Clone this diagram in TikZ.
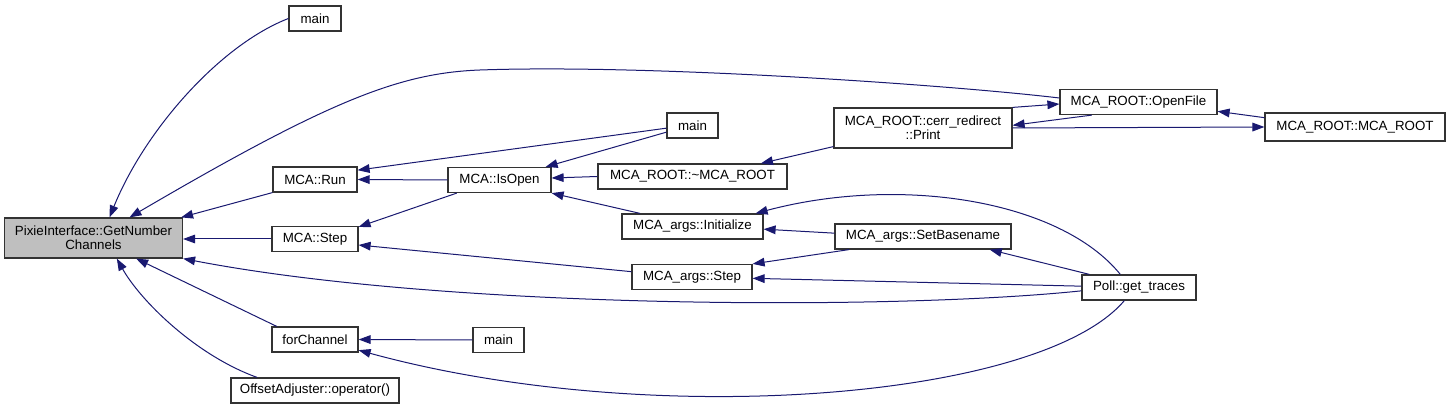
\documentclass[tikz,border=0pt]{standalone}
\usepackage{fontspec}
\setmainfont{Liberation Sans}
\usetikzlibrary{arrows.meta}
\definecolor{cgEdgeColor}{HTML}{191970}
\begin{document}
\begin{tikzpicture}[x=0.75pt, y=-0.75pt,
    cgFunc/.style={draw=black!80, line width=0.9pt, fill=white, inner sep=0pt, minimum height=18.75pt, align=center, font=\fontsize{10}{10.5}\selectfont},
    cgRoot/.style={cgFunc, fill=black!25, minimum height=30pt},
    cgArrow/.style={-{Triangle[length=9pt,width=6.5pt]}, draw=cgEdgeColor, line width=0.75pt}]
    \useasboundingbox (0,0) rectangle (1451,409);

    % Root
    \node[cgRoot, minimum width=133.5pt] (gnc) at (93.5, 238) {PixieInterface::GetNumber\\Channels};

    % First callers
    \node[cgFunc, minimum width=39pt] (mainA) at (315, 18.5) {main};
    \node[cgFunc, minimum width=63pt] (mcaRun) at (315, 179.5) {MCA::Run};
    \node[cgFunc, minimum width=64.5pt] (mcaStep) at (315, 239) {MCA::Step};
    \node[cgFunc, minimum width=64.5pt] (forChannel) at (315, 339.5) {forChannel};
    \node[cgFunc, minimum width=126pt] (offsetOp) at (315, 390.5) {OffsetAdjuster::operator()};

    % Second column
    \node[cgFunc, minimum width=77.25pt] (mcaIsOpen) at (499.5, 180) {MCA::IsOpen};
    \node[cgFunc, minimum width=38.25pt] (mainC) at (498.5, 340) {main};

    % Third column
    \node[cgFunc, minimum width=38.25pt] (mainB) at (692.5, 125.5) {main};
    \node[cgFunc, minimum width=141.75pt] (rootDtor) at (692.5, 176.5) {MCA\_ROOT::\textasciitilde MCA\_ROOT};
    \node[cgFunc, minimum width=105.75pt] (argsInit) at (692.5, 226.5) {MCA\_args::Initialize};
    \node[cgFunc, minimum width=90pt] (argsStep) at (692, 277) {MCA\_args::Step};

    % Fourth column
    \node[cgFunc, minimum width=133.5pt, minimum height=30pt] (cerrPrint) at (923, 128) {MCA\_ROOT::cerr\_redirect\\::Print};
    \node[cgFunc, minimum width=132pt] (argsBase) at (923, 236.5) {MCA\_args::SetBasename};

    % Outer callers
    \node[cgFunc, minimum width=117.75pt] (rootOpen) at (1138.5, 102) {MCA\_ROOT::OpenFile};
    \node[cgFunc, minimum width=85.5pt] (pollTraces) at (1139, 287.5) {Poll::get\_traces};
    \node[cgFunc, minimum width=135pt, minimum height=21pt] (rootCtor) at (1355, 127) {MCA\_ROOT::MCA\_ROOT};

    % into GetNumberChannels
    \draw[cgArrow] (mainA.west) .. controls (220,45) and (145,130) .. ([xshift=12pt]gnc.north);
    \draw[cgArrow] ([yshift=3pt]rootOpen.west) .. controls (950,85) and (650,64) .. (480,70)
        .. controls (400,73) and (330,100) .. ([xshift=27pt]gnc.north);
    \draw[cgArrow] (mcaRun.south west) -- ([xshift=-1.5pt]gnc.north east);
    \draw[cgArrow] (mcaStep.west) -- (mcaStep.west -| gnc.east);
    \draw[cgArrow] ([yshift=-2.5pt]pollTraces.west) .. controls (900,310) and (450,310) .. (gnc.south east);
    \draw[cgArrow] ([xshift=4pt]forChannel.north west) -- ([xshift=32pt]gnc.south);
    \draw[cgArrow] ([xshift=20pt]offsetOp.north west) .. controls (195,355) and (140,300) .. ([xshift=17.5pt]gnc.south);

    % into MCA::Run and MCA::Step
    \draw[cgArrow] (mcaIsOpen.west) -- (mcaRun.east);
    \draw[cgArrow] ([yshift=-2pt]mainB.west) -- ([yshift=7pt]mcaRun.east);
    \draw[cgArrow] ([xshift=7pt]mcaIsOpen.south west) -- ([yshift=-0.75pt]mcaStep.north east);
    \draw[cgArrow] ([yshift=4pt]argsStep.west) -- ([yshift=-4.5pt]mcaStep.east);

    % into MCA::IsOpen
    \draw[cgArrow] (rootDtor.west) -- ([yshift=1.5pt]mcaIsOpen.east);
    \draw[cgArrow] ([yshift=-5pt]mainB.west) -- ([xshift=-4.5pt]mcaIsOpen.north east);
    \draw[cgArrow] ([xshift=14pt]argsInit.north west) -- (mcaIsOpen.south east);

    % into forChannel
    \draw[cgArrow] (mainC.west) -- (forChannel.east);
    \draw[cgArrow] ([xshift=-11pt]pollTraces.south) .. controls (1040,400) and (650,430) .. ([yshift=-8pt]forChannel.east);

    % MCA_ROOT side
    \draw[cgArrow] ([yshift=1.5pt]cerrPrint.south west) -- ([xshift=-20pt]rootDtor.north east);
    \draw[cgArrow] (cerrPrint.north east) -- ([yshift=-1.5pt]rootOpen.west);
    \draw[cgArrow] ([xshift=-35pt]rootOpen.south) -- ([yshift=2pt]cerrPrint.east);
    \draw[cgArrow] (cerrPrint.east) -- (rootCtor.west);
    \draw[cgArrow] ([yshift=7pt]rootCtor.west) -- ([yshift=-7pt]rootOpen.east);

    % MCA_args side
    \draw[cgArrow] ([xshift=-14pt]pollTraces.north) .. controls (1060,200) and (900,175) .. ([xshift=-6pt]argsInit.north east);
    \draw[cgArrow] ([yshift=2.5pt]argsBase.west) -- ([yshift=-2pt]argsInit.east);
    \draw[cgArrow] ([xshift=11pt]argsBase.south west) -- (argsStep.north east);
    \draw[cgArrow] ([xshift=6pt]pollTraces.north west) -- ([xshift=50pt]argsBase.south);
    \draw[cgArrow] ([yshift=1pt]pollTraces.west) -- ([yshift=-1pt]argsStep.east);
\end{tikzpicture}
\end{document}
